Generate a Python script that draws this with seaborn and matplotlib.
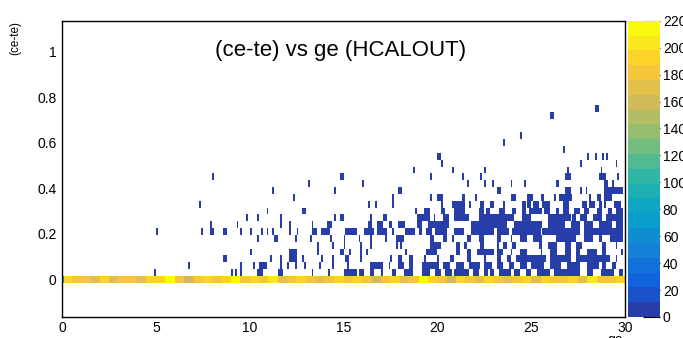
import numpy as np
import pandas as pd
import matplotlib
matplotlib.use("Agg")
import matplotlib.pyplot as plt
import seaborn as sns
from matplotlib.colors import ListedColormap

# ---------------- data ----------------
title = "(ce-te) vs ge (HCALOUT)"
x_label = "ge"
y_label = "(ce-te)"
x_edges = np.linspace(0.0, 30.0, 301)          # 0.1 wide bins in ge
y_edges = np.linspace(-0.165, 1.155, 45)       # 0.03 wide bins in (ce-te)
z_ticks = [0, 20, 40, 60, 80, 100, 120, 140, 160, 180, 200, 220]

# counts along the (ce-te)=0 row, one value per 0.5 in ge
zero_row = [190, 180, 185, 172, 190, 165, 185, 178, 170, 192,
            195, 210, 180, 160, 185, 190, 176, 195, 210, 185,
            190, 178, 205, 172, 186, 192, 178, 168, 185, 196,
            178, 190, 185, 155, 180, 196, 172, 186, 210, 190,
            180, 158, 192, 185, 172, 190, 180, 168, 186, 192,
            172, 196, 185, 178, 190, 172, 205, 185, 180, 190]
zero_row_first_bin = 70
sparse_count = 2   # low-count cells (darkest colour)

# occupied ge ranges for each (ce-te) row
hits_y75 = [(28.4, 28.6)]
hits_y72 = [(26.0, 26.2)]
hits_y63 = [(24.4, 24.5)]
hits_y60 = [(23.5, 23.6)]
hits_y57 = [(26.7, 26.8)]
hits_y54 = [(20.0, 20.2), (28.0, 28.1), (28.4, 28.5), (28.8, 28.9), (29.0, 29.1)]
hits_y51 = [(20.2, 20.3), (27.6, 27.7), (29.5, 29.6)]
hits_y48 = [(18.7, 18.8), (20.8, 20.9), (22.5, 22.6), (26.9, 27.0), (28.7, 28.8)]
hits_y45 = [(8.0, 8.1), (14.8, 15.0), (19.6, 19.7), (21.3, 21.4), (22.3, 22.4),
            (26.8, 27.1), (28.6, 29.0), (29.6, 29.7)]
hits_y42 = [(13.1, 13.2), (16.0, 16.1), (21.6, 21.7), (22.5, 22.6), (22.9, 23.0),
            (23.9, 24.0), (24.6, 24.7), (26.3, 26.5), (28.9, 29.1), (29.3, 29.4)]
hits_y39 = [(11.2, 11.3), (14.5, 14.6), (17.9, 18.1), (23.2, 23.4), (26.8, 27.1),
            (27.6, 27.7), (27.9, 28.0), (28.9, 29.9)]
hits_y36 = [(12.3, 12.4), (17.6, 17.7), (19.6, 19.7), (20.0, 20.3), (21.3, 21.5),
            (22.0, 22.1), (23.9, 24.2), (24.8, 25.1), (25.5, 25.7), (26.2, 26.3),
            (26.5, 27.2), (28.1, 28.2), (28.5, 28.7), (28.9, 29.3)]
hits_y33 = [(7.3, 7.4), (16.3, 16.4), (16.7, 16.8), (17.6, 17.7), (20.2, 20.3),
            (20.8, 21.5), (21.7, 21.8), (22.3, 22.5), (22.8, 23.0), (23.5, 23.6),
            (24.5, 24.7), (24.8, 25.0), (25.1, 25.4), (25.6, 26.0), (26.7, 27.0),
            (27.7, 28.0), (28.1, 28.4), (28.6, 28.8), (28.9, 29.0), (29.4, 29.8)]
hits_y30 = [(10.9, 11.0), (12.8, 13.0), (18.8, 18.9), (19.3, 19.6), (20.2, 20.4),
            (20.9, 21.5), (22.2, 22.5), (22.6, 22.8), (23.3, 23.6), (24.0, 24.2),
            (24.5, 24.7), (24.9, 25.6), (25.7, 26.0), (26.3, 26.5), (26.7, 27.0),
            (27.3, 27.6), (27.8, 28.1), (28.5, 28.8), (29.1, 29.3), (29.5, 29.9)]
hits_y27 = [(9.8, 9.9), (10.4, 10.5), (11.6, 11.7), (14.5, 14.6), (14.8, 15.0),
            (16.4, 16.5), (17.1, 17.3), (18.9, 19.6), (19.8, 19.9), (20.3, 20.6),
            (20.9, 21.7), (22.2, 24.1), (24.5, 25.0), (25.9, 27.1), (27.2, 27.4),
            (27.6, 28.0), (28.3, 28.8), (29.0, 29.9)]
hits_y24 = [(7.9, 8.0), (9.3, 9.4), (11.6, 11.7), (12.1, 12.2), (13.3, 13.4),
            (14.1, 14.4), (16.3, 16.5), (16.8, 17.1), (17.4, 17.6), (17.9, 18.3),
            (18.9, 19.2), (19.5, 20.6), (21.8, 23.7), (24.1, 25.6), (25.9, 26.8),
            (27.1, 27.6), (27.8, 28.3), (28.6, 29.3), (29.5, 29.9)]
hits_y21 = [(5.0, 5.1), (7.4, 7.5), (7.9, 8.1), (8.6, 8.8), (9.5, 9.6), (10.0, 10.1),
            (10.6, 10.7), (10.9, 11.0), (11.2, 11.3), (12.1, 12.2), (12.5, 12.6),
            (13.3, 13.6), (13.8, 14.3), (15.1, 15.7), (16.1, 16.6), (16.8, 17.3),
            (17.6, 17.7), (18.3, 18.8), (19.0, 19.2), (19.4, 19.7), (19.9, 20.5),
            (20.9, 21.4), (21.8, 23.0), (23.2, 23.8), (24.0, 25.5), (25.6, 27.6),
            (27.8, 29.9)]
hits_y18 = [(10.4, 10.5), (11.3, 11.5), (12.4, 12.5), (13.2, 13.3), (14.3, 14.4),
            (15.0, 15.1), (15.8, 15.9), (16.4, 16.5), (17.2, 17.3), (17.8, 18.2),
            (19.6, 19.8), (20.3, 20.5), (20.8, 20.9), (21.6, 21.8), (22.2, 22.5),
            (23.2, 23.4), (23.9, 24.0), (24.4, 24.8), (25.1, 25.6), (26.3, 27.4),
            (27.8, 28.3), (28.6, 28.8), (29.2, 29.9)]
hits_y15 = [(13.6, 13.7), (14.4, 14.5), (15.0, 15.1), (15.9, 16.0), (16.4, 16.5),
            (17.8, 17.9), (18.0, 18.1), (19.6, 20.2), (21.0, 21.2), (21.4, 21.6),
            (22.3, 22.5), (23.2, 23.3), (23.5, 23.7), (24.0, 24.2), (25.4, 25.6),
            (25.9, 26.4), (26.8, 27.1), (27.4, 27.7), (28.8, 29.0), (29.5, 29.6)]
hits_y12 = [(10.0, 10.1), (12.1, 12.5), (13.6, 13.7), (14.8, 15.0), (15.3, 15.4),
            (15.9, 16.0), (16.2, 16.3), (18.3, 18.4), (19.4, 20.0), (21.0, 21.2),
            (21.6, 21.8), (22.1, 23.0), (23.2, 23.5), (23.9, 24.0), (24.4, 24.8),
            (25.5, 25.6), (26.0, 26.4), (26.8, 27.1), (27.4, 27.6), (28.0, 28.5),
            (28.8, 29.0), (29.8, 29.9)]
hits_y09 = [(8.6, 8.8), (11.1, 11.2), (11.6, 11.7), (12.1, 12.5), (12.8, 12.9),
            (13.8, 13.9), (14.4, 14.5), (15.1, 15.3), (15.9, 16.0), (17.5, 17.6),
            (17.9, 18.1), (18.5, 18.7), (19.3, 19.4), (20.0, 20.1), (20.7, 20.9),
            (21.6, 21.8), (22.5, 22.6), (23.2, 23.4), (23.7, 23.9), (24.2, 25.8),
            (26.0, 27.1), (27.4, 29.2), (29.5, 29.6)]
hits_y06 = [(6.7, 6.8), (9.5, 9.6), (10.2, 10.3), (10.5, 10.9), (11.6, 11.7),
            (12.0, 12.1), (12.4, 12.5), (12.9, 13.0), (13.7, 13.8), (14.4, 14.5),
            (15.2, 15.3), (16.4, 17.1), (17.4, 17.5), (17.9, 18.2), (18.5, 18.7),
            (19.2, 20.1), (20.3, 20.7), (21.0, 21.4), (21.7, 22.3), (22.5, 22.9),
            (23.2, 23.5), (23.8, 24.1), (24.4, 24.8), (25.0, 25.7), (26.0, 26.6),
            (26.9, 27.6), (28.0, 28.6), (28.8, 29.0), (29.3, 29.5)]
hits_y03 = [(4.9, 5.0), (9.0, 9.1), (9.2, 9.3), (9.5, 9.6), (10.4, 10.7),
            (11.5, 11.8), (13.3, 13.4), (14.2, 14.3), (15.0, 15.3), (15.3, 15.7),
            (15.8, 16.1), (16.4, 16.6), (17.0, 17.1), (17.6, 17.8), (18.2, 18.7),
            (19.2, 19.6), (19.9, 20.2), (20.4, 20.8), (20.9, 21.7), (21.9, 22.2),
            (22.5, 22.7), (22.8, 23.0), (23.3, 23.9), (24.1, 24.4), (24.7, 25.0),
            (25.3, 26.0), (26.2, 27.6), (28.0, 28.3), (28.7, 29.4), (29.7, 29.9)]

rows = [(0.03, hits_y03), (0.06, hits_y06), (0.09, hits_y09), (0.12, hits_y12),
        (0.15, hits_y15), (0.18, hits_y18), (0.21, hits_y21), (0.24, hits_y24),
        (0.27, hits_y27), (0.30, hits_y30), (0.33, hits_y33), (0.36, hits_y36),
        (0.39, hits_y39), (0.42, hits_y42), (0.45, hits_y45), (0.48, hits_y48),
        (0.51, hits_y51), (0.54, hits_y54), (0.57, hits_y57), (0.60, hits_y60),
        (0.63, hits_y63), (0.72, hits_y72), (0.75, hits_y75)]

# ---------------- build the weighted table ----------------
bw = x_edges[1] - x_edges[0]
xs, ys, ws = [], [], []
for yc, ranges in rows:
    for a, b in ranges:
        i0 = int(round(a / bw))
        i1 = max(int(round(b / bw)), i0 + 1)
        for i in range(i0, i1):
            xs.append((i + 0.5) * bw)
            ys.append(yc)
            ws.append(sparse_count)
nbx = len(x_edges) - 1
for i in range(nbx):
    v = zero_row_first_bin if i == 0 else zero_row[i * len(zero_row) // nbx]
    xs.append((i + 0.5) * bw)
    ys.append(0.0)
    ws.append(v)
df = pd.DataFrame({"ge": xs, "dcete": ys, "n": ws})

# ---------------- ROOT kBird palette, 20 contour levels ----------------
stops = [0.0, 0.125, 0.25, 0.375, 0.5, 0.625, 0.75, 0.875, 1.0]
red = [0.2082, 0.0592, 0.0780, 0.0232, 0.1802, 0.5301, 0.8186, 0.9956, 0.9764]
green = [0.1664, 0.3599, 0.5041, 0.6419, 0.7178, 0.7492, 0.7328, 0.7862, 0.9832]
blue = [0.5293, 0.8684, 0.8385, 0.7914, 0.6425, 0.4662, 0.3499, 0.1968, 0.0539]
nlev = 20
ts = [int((k + 0.99) * 255 / nlev) / 254.0 for k in range(nlev)]
cols = [(np.interp(t, stops, red), np.interp(t, stops, green), np.interp(t, stops, blue)) for t in ts]
bird = ListedColormap(cols)

# ---------------- figure ----------------
sns.set_style("white")
plt.rcParams["font.family"] = ["Liberation Sans", "DejaVu Sans"]
plt.rcParams["text.color"] = "black"
plt.rcParams["axes.labelcolor"] = "black"
plt.rcParams["xtick.color"] = "black"
plt.rcParams["ytick.color"] = "black"

W, H = 683, 338
fig = plt.figure(figsize=(W / 100, H / 100), dpi=100)
ax = fig.add_axes([62 / W, (H - 317) / H, 563 / W, 296.3 / H])
cax = fig.add_axes([628 / W, (H - 317) / H, 32 / W, 296.3 / H])

sns.histplot(data=df, x="ge", y="dcete", weights="n", bins=(x_edges, y_edges),
             cmap=bird, vmin=0, vmax=220, thresh=0, cbar=True, cbar_ax=cax, ax=ax)

ax.set_xlim(0, 30)
ax.set_ylim(-0.166, 1.136)
ax.set_xlabel("")
ax.set_ylabel("")
ax.set_xticks([0, 5, 10, 15, 20, 25, 30])
ax.set_xticks(np.arange(0, 31, 1), minor=True)
ax.set_yticks([0, 0.2, 0.4, 0.6, 0.8, 1])
ax.set_yticklabels(["0", "0.2", "0.4", "0.6", "0.8", "1"])
ax.set_yticks(np.arange(-0.15, 1.13, 0.05), minor=True)
ax.tick_params(axis="both", which="both", direction="in", colors="black",
               labelsize=10, width=0.8, top=False, right=False)
ax.tick_params(axis="y", which="major", length=12, pad=4)
ax.tick_params(axis="y", which="minor", length=6)
ax.tick_params(axis="x", which="major", length=6.5, pad=3)
ax.tick_params(axis="x", which="minor", length=3.6)
for s in ax.spines.values():
    s.set_visible(True)
    s.set_color("black")
    s.set_linewidth(1.0)
ax.grid(False)
ax.set_facecolor("white")

ax.text(0.494, 0.90, title, transform=ax.transAxes, ha="center", va="center",
        fontsize=16, color="black")
fig.text(15 / W, 1 - 21 / H, y_label, rotation=90, ha="center", va="top",
         fontsize=8.5, color="black")
fig.text(623 / W, 1 - 333 / H, x_label, ha="right", va="top", fontsize=10,
         color="black")

cax.set_yticks(z_ticks)
cax.tick_params(axis="y", which="major", direction="in", length=12, width=0.8,
                right=True, left=False, labelright=True, labelleft=False,
                labelsize=10, pad=2, colors="black")
cax.minorticks_off()
for s in cax.spines.values():
    s.set_visible(False)

fig.savefig("out.png", dpi=100)
